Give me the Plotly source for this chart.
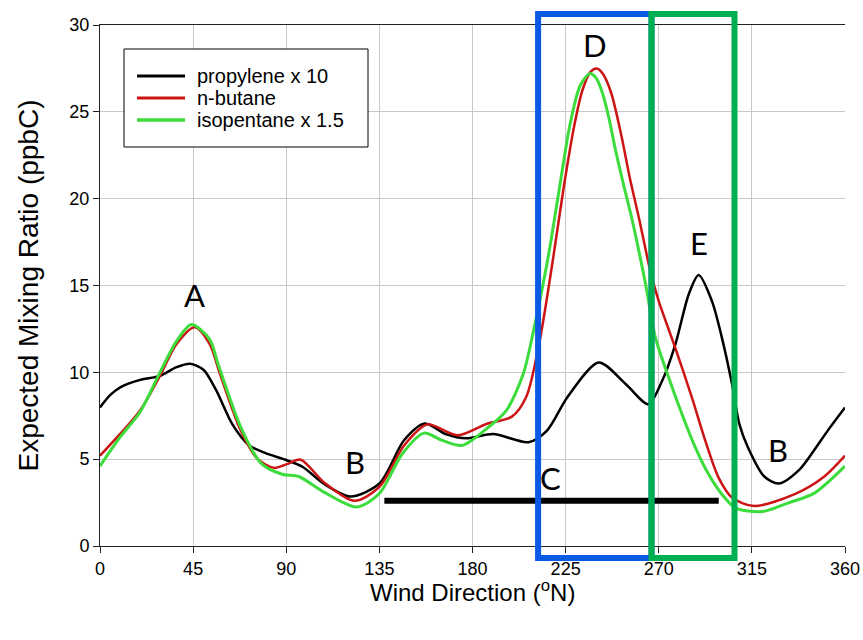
import plotly.graph_objects as go

# Wind direction (deg N) and expected mixing ratio (ppbC)
prop_dir = [0, 5, 10, 19, 29, 37, 43.5, 50, 56, 64, 72, 80, 90, 98, 108, 121, 135, 147, 157, 167, 177,
            190, 207, 216, 226, 241, 254, 265, 271.6, 278, 284.5, 289.3, 295.7, 300.5, 305.4, 309,
            313, 321, 328, 338, 345, 352, 360]
prop_val = [7.98, 8.7, 9.15, 9.55, 9.8, 10.3, 10.5, 10.15, 9.0, 7.0, 5.8, 5.35, 4.95, 4.55, 3.6, 2.85, 3.6,
            6.1, 7.05, 6.45, 6.2, 6.45, 5.98, 6.65, 8.6, 10.57, 9.33, 8.17, 9.5, 11.6, 14.5, 15.6,
            14.1, 12.0, 9.33, 7.0, 5.7, 4.0, 3.6, 4.4, 5.5, 6.7, 7.98]

but_dir = [0, 9.6, 19.3, 29, 37, 45.8, 53, 58, 68, 76, 84, 90, 97, 108, 123, 135, 147, 158, 173,
           187, 199, 206, 212.5, 219, 224, 229, 233, 237, 240, 243, 247, 252, 256, 260.4, 266,
           270, 278, 286, 292.5, 298.9, 305.4, 316, 336, 350, 360]
but_val = [5.2, 6.44, 7.79, 9.8, 11.63, 12.6, 11.63, 9.9, 6.65, 5.03, 4.5, 4.7, 4.97, 3.69, 2.6,
           3.4, 5.8, 7.0, 6.37, 7.04, 7.45, 8.6, 11.84, 16.6, 20.6, 24.1, 26.2, 27.3, 27.5, 27.2,
           26.1, 23.6, 21.2, 18.9, 15.8, 14.1, 11.4, 8.56, 6.06, 3.94, 2.79, 2.3, 3.0, 4.0, 5.2]

iso_dir = [0, 9.6, 19.3, 29, 37, 44.2, 53, 57, 68, 78, 88, 96, 108, 124, 135, 146, 156.5, 165, 175,
           188, 196.5, 204.5, 209.5, 216.5, 222, 227, 232, 236.7, 240, 243, 246, 249.1, 253, 257.1,
           263.6, 268.4, 274.8, 281.2, 287.7, 294.1, 300.5, 307, 320, 333, 345, 360]
iso_val = [4.6, 6.25, 7.7, 10.0, 11.8, 12.75, 11.9, 10.5, 6.85, 4.74, 4.13, 4.0, 3.12, 2.25, 3.02,
           5.3, 6.5, 6.1, 5.79, 6.87, 7.83, 9.9, 12.4, 16.6, 20.6, 24.2, 26.5, 27.2, 26.9, 26.0,
           24.6, 22.8, 20.8, 18.8, 15.1, 12.0, 9.7, 7.6, 5.67, 4.13, 2.98, 2.2, 1.98, 2.5, 3.03, 4.6]

series_names = ["propylene x 10", "n-butane", "isopentane x 1.5"]
series_colors = ["#000000", "#CC1414", "#3CDC3C"]
series_widths = [2.5, 2.5, 3]

# Region labels
label_text = ["A", "B", "C", "D", "E", "B"]
label_dir = [45.8, 123, 217.5, 239, 289.3, 327.4]
label_val = [14.45, 4.84, 3.9, 28.85, 17.44, 5.53]

# Sector boxes (deg) and source bar
blue_box = [211.7, 266.5]
green_box = [266.5, 306.6]
bar_dir = [137.4, 299]
bar_val = 2.6

x_ticks = [0, 45, 90, 135, 180, 225, 270, 315, 360]
y_ticks = [0, 5, 10, 15, 20, 25, 30]

x_title = "Wind Direction (<sup>o</sup>N)"
y_title = "Expected Mixing Ratio (ppbC)"

W, H = 863, 640
ML, MR, MT, MB = 100, 18, 25, 94
PW, PH = W - ML - MR, H - MT - MB


def px_x(p):
    return (p - ML) / PW


def px_y(p):
    return (H - MB - p) / PH


fig = go.Figure()
for d, v, n, c, w in zip([prop_dir, but_dir, iso_dir], [prop_val, but_val, iso_val],
                         series_names, series_colors, series_widths):
    fig.add_trace(go.Scatter(x=d, y=v, mode="lines", name=n, showlegend=False,
                             line=dict(color=c, width=w, shape="spline", smoothing=0.8)))

shapes = [
    dict(type="line", xref="x", yref="y", x0=bar_dir[0], x1=bar_dir[1], y0=bar_val, y1=bar_val,
         line=dict(color="black", width=6)),
    dict(type="rect", xref="x", yref="paper", x0=blue_box[0], x1=blue_box[1], y0=-0.023, y1=1.021,
         line=dict(color="#0A5AE6", width=6), layer="above"),
    dict(type="rect", xref="x", yref="paper", x0=green_box[0], x1=green_box[1], y0=-0.023, y1=1.021,
         line=dict(color="#00B050", width=6), layer="above"),
    # legend frame
    dict(type="rect", xref="paper", yref="paper", x0=px_x(124), x1=px_x(368), y0=px_y(147), y1=px_y(49),
         line=dict(color="black", width=1), fillcolor="white", layer="above"),
]

annotations = [dict(x=xx, y=yy, text=t, showarrow=False, xref="x", yref="y",
                    font=dict(family="Lato", size=31, color="black"))
               for t, xx, yy in zip(label_text, label_dir, label_val)]

legend_rows = [76, 98, 120]
for n, c, w, ry in zip(series_names, series_colors, series_widths, legend_rows):
    shapes.append(dict(type="line", xref="paper", yref="paper", x0=px_x(137), x1=px_x(185),
                       y0=px_y(ry), y1=px_y(ry), line=dict(color=c, width=w + 0.5), layer="above"))
    annotations.append(dict(x=px_x(195), y=px_y(ry), xref="paper", yref="paper", text=n,
                            showarrow=False, xanchor="left", yanchor="middle",
                            font=dict(family="Liberation Sans", size=20, color="black")))

# x-axis title
annotations.append(dict(x=0.5, y=px_y(591), xref="paper", yref="paper", text=x_title,
                        showarrow=False, xanchor="center", yanchor="middle",
                        font=dict(family="Liberation Sans", size=24, color="black")))

fig.update_layout(
    width=W, height=H,
    margin=dict(l=ML, r=MR, t=MT, b=MB),
    paper_bgcolor="white", plot_bgcolor="white",
    font=dict(family="Liberation Sans", color="black"),
    shapes=shapes,
    annotations=annotations,
    showlegend=False,
    xaxis=dict(range=[0, 360], tickvals=x_ticks, showgrid=True, gridcolor="#C8C8C8", gridwidth=1,
               showline=True, linecolor="#222222", linewidth=1, mirror=True,
               ticks="outside", ticklen=6, tickcolor="#222222", automargin=False,
               tickfont=dict(size=18), zeroline=False),
    yaxis=dict(range=[0, 30], tickvals=y_ticks, showgrid=True, gridcolor="#C8C8C8", gridwidth=1,
               showline=True, linecolor="#222222", linewidth=1,
               ticks="outside", ticklen=6, tickcolor="#222222", automargin=False,
               tickfont=dict(size=18), zeroline=False,
               title=dict(text=y_title, font=dict(size=28), standoff=22)),
)

fig.write_html("out.html")
